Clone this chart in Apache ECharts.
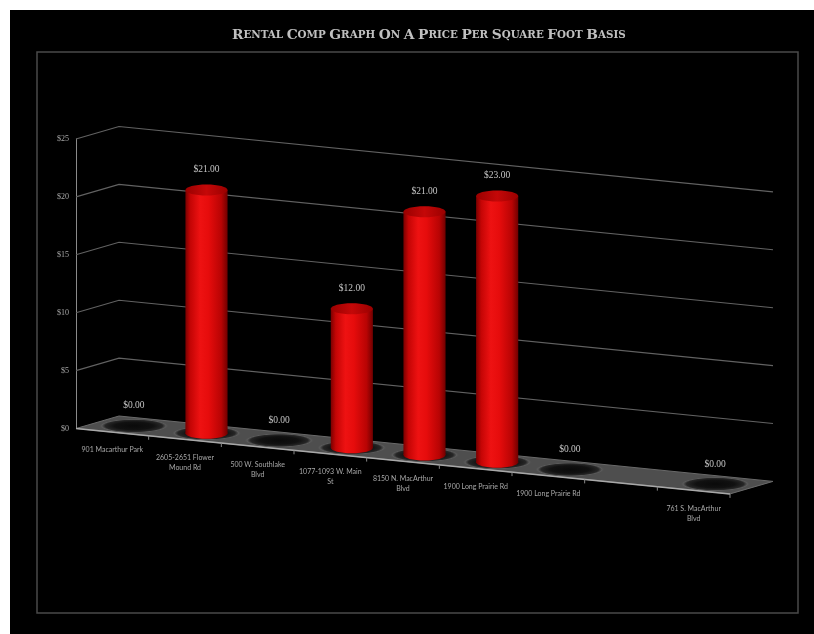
<!DOCTYPE html>
<html><head><meta charset="utf-8">
<script src="https://cdn.jsdelivr.net/npm/echarts@6/dist/echarts.min.js"></script>
<style>html,body{margin:0;padding:0;background:#fff}#c{width:814px;height:634px;background:#000;box-shadow:inset 10px 10px 0 0 #fff}</style>
</head><body><div id="c"></div>
<script>
const titleText = 'Rental Comp Graph on a Price Per Square Foot Basis';
const categories = ['901 Macarthur Park', '2605-2651 Flower\nMound Rd', '500 W. Southlake\nBlvd', '1077-1093 W. Main\nSt', '8150 N. MacArthur\nBlvd', '1900 Long Prairie Rd', '1900 Long Prairie Rd', '', '761 S. MacArthur\nBlvd'];
const rentPerSqFt = [0, 21, 0, 12, 21, 23, 0, null, 0];
const yTicks = [0, 5, 10, 15, 20, 25];

const SLOPE = 0.1, DX = 43, DY = -12.5;
function proj(cs, p, d) { return [p[0] + DX * d, p[1] + SLOPE * (p[0] - cs.x) + DY * d]; }

const titleRich = titleText.split(' ').map(w => '{b|' + w[0].toUpperCase() + '}' + (w.length > 1 ? '{s|' + w.slice(1).toUpperCase() + '}' : '')).join('{s| }');

function renderWalls(params, api) {
  const cs = params.coordSys; const v = api.value(1);
  if (v === 0) return null;
  const y = api.coord([0, v])[1];
  const L = [cs.x, y], R = [cs.x + cs.width, y];
  return { type: 'polyline', shape: { points: [proj(cs, L, 0), proj(cs, L, 1), proj(cs, R, 1)] },
    style: { stroke: '#626262', lineWidth: 1.1, fill: null } };
}
function renderFloor(params, api) {
  const cs = params.coordSys; const y0 = api.coord([0, 0])[1];
  const FL = [cs.x, y0], FR = [cs.x + cs.width, y0];
  const p1 = proj(cs, FL, 0), p2 = proj(cs, FL, 1), p3 = proj(cs, FR, 1), p4 = proj(cs, FR, 0);
  return { type: 'group', children: [
    { type: 'polygon', shape: { points: [p1, p2, p3, p4] }, style: { fill: '#4e4e4e', stroke: '#6a6a6a', lineWidth: 1 } },
    { type: 'line', shape: { x1: p1[0], y1: p1[1], x2: p4[0], y2: p4[1] }, style: { stroke: '#a8a8a8', lineWidth: 1.5 } }
  ] };
}
function renderBars(params, api) {
  const v = api.value(1);
  if (v == null || isNaN(v)) return null;
  const cs = params.coordSys; const i = api.value(0);
  const base = api.coord([i, 0]), top = api.coord([i, v]);
  const bw = api.size([1, 0])[0];
  const b = proj(cs, base, 0.5);
  const t = [b[0], b[1] - (base[1] - top[1])];
  const r = bw * 0.29, ry = 5.5;
  const srx = bw * 0.48, sry = 7;
  const children = [
    { type: 'circle', x: b[0], y: b[1], scaleY: sry / srx, shape: { cx: 0, cy: 0, r: srx },
      style: { fill: { type: 'radial', x: 0.5, y: 0.5, r: 0.5, colorStops: [
        { offset: 0, color: '#0a0a0a' }, { offset: 0.55, color: '#111' }, { offset: 0.82, color: '#262626' },
        { offset: 0.92, color: '#5a5a5a' }, { offset: 1, color: 'rgba(78,78,78,0)' }] } } }
  ];
  if (v > 0) {
    const grad = { type: 'linear', x: 0, y: 0, x2: 1, y2: 0, colorStops: [
      { offset: 0, color: '#7a0000' }, { offset: 0.12, color: '#c40505' }, { offset: 0.35, color: '#ee1212' },
      { offset: 0.55, color: '#e60c0c' }, { offset: 0.85, color: '#b80404' }, { offset: 1, color: '#700000' }] };
    children.push(
      { type: 'ellipse', shape: { cx: b[0], cy: b[1], rx: r, ry: ry }, style: { fill: grad } },
      { type: 'rect', shape: { x: b[0] - r, y: t[1], width: 2 * r, height: b[1] - t[1] }, style: { fill: grad } },
      { type: 'ellipse', shape: { cx: t[0], cy: t[1], rx: r, ry: ry }, style: { fill: { type: 'linear', x: 0, y: 0, x2: 1, y2: 0, colorStops: [
        { offset: 0, color: '#9a0000' }, { offset: 0.5, color: '#c40808' }, { offset: 1, color: '#9a0000' }] } } }
    );
  }
  children.push({ type: 'text', x: t[0], y: t[1] - 20, style: { text: '$' + v.toFixed(2), fill: '#c4c4c4',
    fontSize: 9.5, fontFamily: 'Liberation Serif', align: 'center', verticalAlign: 'middle' } });
  return { type: 'group', children };
}
function renderCats(params, api) {
  const cs = params.coordSys; const i = api.value(0);
  const c = api.coord([i, 0]); const bw = api.size([1, 0])[0];
  const f = proj(cs, c, 0);
  const tk = proj(cs, [c[0] + bw / 2, c[1]], 0);
  return { type: 'group', children: [
    { type: 'text', x: f[0], y: f[1] + 13, style: { text: categories[i], fill: '#a8a8a8', fontSize: 7,
      fontFamily: 'Lato', align: 'center', verticalAlign: 'top', lineHeight: 10 } },
    { type: 'line', shape: { x1: tk[0], y1: tk[1], x2: tk[0], y2: tk[1] + 4 }, style: { stroke: '#888', lineWidth: 1 } }
  ] };
}

const chart = echarts.init(document.getElementById('c'), null, { renderer: 'canvas' });
chart.setOption({
  backgroundColor: 'transparent',
  animation: false,
  title: { text: titleRich, left: 227, top: 23, textStyle: { color: '#c0c0c0', rich: {
    b: { fontSize: 13.8, fontFamily: 'DejaVu Serif', color: '#c0c0c0' },
    s: { fontSize: 10.3, fontFamily: 'DejaVu Serif', color: '#c0c0c0' } } } },
  graphic: [{ type: 'rect', shape: { x: 37, y: 52, width: 761, height: 561 }, style: { fill: null, stroke: '#4a4a4a', lineWidth: 1.5 }, z: 0, silent: true }],
  grid: { left: 76, top: 139, width: 654, height: 289.5 },
  xAxis: { type: 'category', data: categories, show: false },
  yAxis: { type: 'value', min: 0, max: 25, interval: 5, splitLine: { show: false },
    axisLine: { show: true, lineStyle: { color: '#8a8a8a', width: 1 } }, axisTick: { show: false },
    axisLabel: { color: '#a8a8a8', fontSize: 8, fontFamily: 'Liberation Serif', margin: 7, formatter: v => '$' + v } },
  series: [
    { type: 'custom', z: 1, silent: true, renderItem: renderWalls, data: yTicks.map(v => [0, v]) },
    { type: 'custom', z: 2, silent: true, renderItem: renderFloor, data: [[0, 0]] },
    { type: 'custom', z: 3, silent: true, renderItem: renderBars, data: rentPerSqFt.map((v, i) => [i, v == null ? '-' : v]) },
    { type: 'custom', z: 4, silent: true, renderItem: renderCats, data: categories.map((c, i) => [i, 0]) }
  ]
});
</script></body></html>
